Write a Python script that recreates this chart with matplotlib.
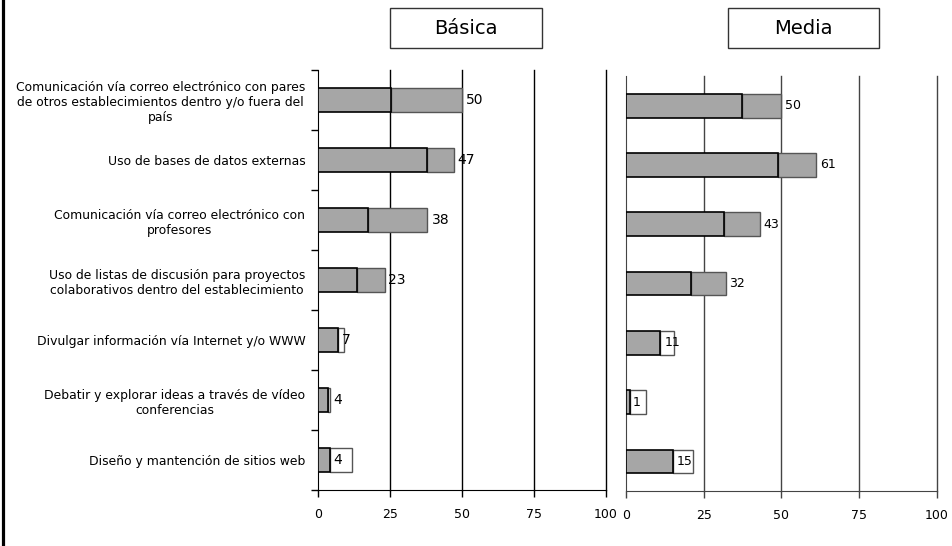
import matplotlib
matplotlib.use("Agg")
import matplotlib.pyplot as plt
from matplotlib.patches import Rectangle
from matplotlib.lines import Line2D

categorias = [
    "Comunicación vía correo electrónico con pares\nde otros establecimientos dentro y/o fuera del\npaís",
    "Uso de bases de datos externas",
    "Comunicación vía correo electrónico con\nprofesores",
    "Uso de listas de discusión para proyectos\ncolaborativos dentro del establecimiento",
    "Divulgar información vía Internet y/o WWW",
    "Debatir y explorar ideas a través de vídeo\nconferencias",
    "Diseño y mantención de sitios web",
]
ticks_x = [0, 25, 50, 75, 100]

# valor (etiqueta), division interna y fin del segundo tramo
basica = [50, 47, 38, 23, 7, 4, 4]
basica_div = [25.5, 38, 17.5, 13.5, 6.8, 3.6, 4.2]
basica_fin = [50, 47.3, 38, 23.1, 9, 4.2, 11.8]

media = [50, 61, 43, 32, 11, 1, 15]
media_div = [37.3, 48.9, 31.5, 21, 11, 1.2, 15.2]
media_fin = [50, 61, 43, 32.1, 15.5, 6.5, 21.5]

GRIS = "#a6a6a6"
W, H = 953, 546

fig = plt.figure(figsize=(W/100, H/100), dpi=100)

def ax_px(l, r, t, b):
    return [l/W, 1-b/H, (r-l)/W, (b-t)/H]

def panel(ax, val, div, fin, col_eje, fs_lab, fam):
    y = list(range(len(val)))
    for i in y:
        ax.barh(i, div[i], height=0.4, color=GRIS, edgecolor="black", lw=1.2, zorder=3)
        c2 = "white" if div[i] >= val[i]-0.5 else GRIS
        ax.barh(i, fin[i]-div[i], left=div[i], height=0.4, color=c2,
                edgecolor="#555555", lw=1.0, zorder=2)
        ax.annotate(str(val[i]), (val[i], i), xytext=(4, 0), textcoords="offset pixels",
                    va="center", ha="left", fontsize=fs_lab, family=fam, zorder=5)
    ax.set_xlim(0, 100)
    ax.set_ylim(len(val)-0.5, -0.5)
    ax.set_xticks(ticks_x)
    for g in ticks_x[1:]:
        ax.axvline(g, color=col_eje, lw=1.0, zorder=1, clip_on=False)
    ax.spines["top"].set_visible(False)
    ax.spines["right"].set_visible(False)
    ax.spines["left"].set_color(col_eje)
    ax.spines["bottom"].set_color(col_eje)
    ax.tick_params(axis="x", direction="out", length=5, width=1, color=col_eje, pad=8)
    for t in ax.get_xticklabels():
        t.set_family(fam)
        t.set_fontsize(9)

ax1 = fig.add_axes(ax_px(318, 606, 70, 490))
panel(ax1, basica, basica_div, basica_fin, "black", 10, "DejaVu Sans")
ax1.set_yticks(range(len(categorias)))
ax1.set_yticklabels(categorias, fontsize=8.9)
ax1.tick_params(axis="y", which="major", length=0, pad=9)
for t in ax1.get_yticklabels():
    t.set_multialignment("center")
ax1.set_yticks([i-0.5 for i in range(len(categorias)+1)], minor=True)
ax1.tick_params(axis="y", which="minor", length=5, width=1, direction="out")

ax2 = fig.add_axes(ax_px(626, 937, 76, 491))
panel(ax2, media, media_div, media_fin, "#444444", 9, "Liberation Sans Narrow")
ax2.set_yticks([])

# titulos en recuadro
for texto, l, r in [("Básica", 390, 542), ("Media", 728, 879)]:
    fig.add_artist(Rectangle((l/W, 1-48/H), (r-l)/W, 40/H, transform=fig.transFigure,
                             facecolor="white", edgecolor="#333333", lw=1))
    fig.text((l+r)/2/W, 1-28/H, texto, ha="center", va="center", fontsize=14)

# borde izquierdo
fig.add_artist(Line2D([3.5/W, 3.5/W], [0, 1], transform=fig.transFigure, color="black", lw=2.3))

fig.savefig("out.png", dpi=100)
